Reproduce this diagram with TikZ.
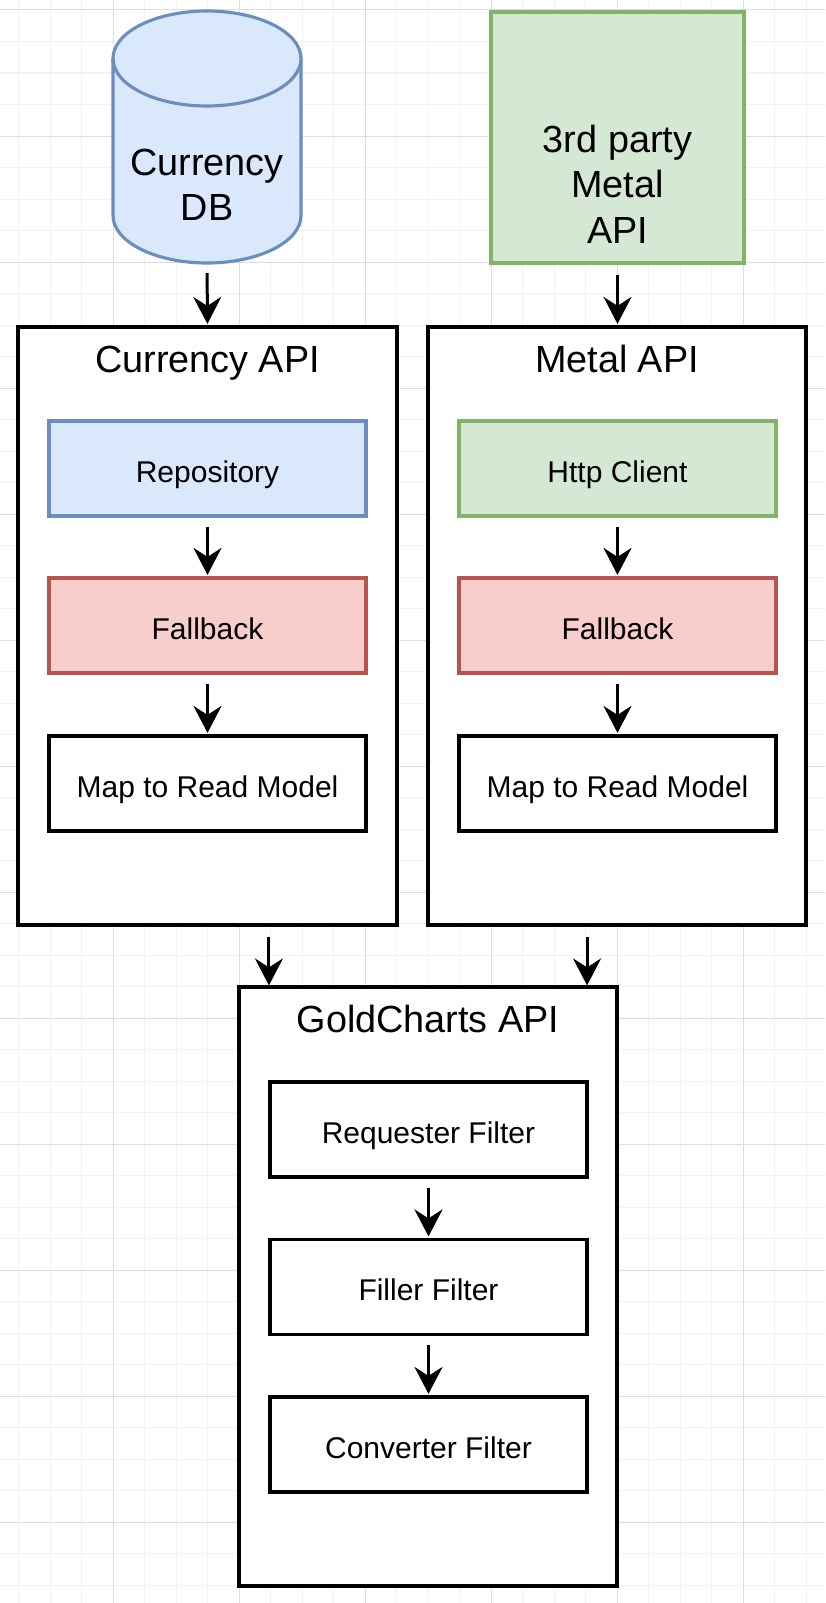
\documentclass[tikz,border=0pt]{standalone}
\usepackage{fontspec}
\setmainfont{Liberation Sans}
\usetikzlibrary{arrows.meta,calc}
\definecolor{bfill}{HTML}{DAE8FC}
\definecolor{bline}{HTML}{6C8EBF}
\definecolor{gfill}{HTML}{D5E8D4}
\definecolor{gline}{HTML}{82B366}
\definecolor{rfill}{HTML}{F8CECC}
\definecolor{rline}{HTML}{B85450}
\definecolor{gridmin}{HTML}{F2F2F2}
\definecolor{gridmaj}{HTML}{DDDDDD}
\begin{document}
\begin{tikzpicture}[x=1pt,y=-1pt,
  gridminor/.style={draw=gridmin,line width=1pt},
  gridmajor/.style={draw=gridmaj,line width=1pt},
  bigfont/.style={font=\fontsize{37.8pt}{45.4pt}\selectfont},
  container/.style={draw=black,fill=white,line width=3.15pt,minimum width=378pt,minimum height=598pt,inner sep=0pt},
  title/.style={bigfont,anchor=base,inner sep=0pt},
  stage/.style={draw=black,fill=white,line width=3.15pt,minimum width=317pt,minimum height=95pt,inner sep=0pt,
    text height=27pt,text depth=0pt,font=\fontsize{30pt}{36pt}\selectfont},
  bluebox/.style={fill=bfill,draw=bline},
  greenbox/.style={fill=gfill,draw=gline},
  redbox/.style={fill=rfill,draw=rline},
  arr/.style={draw=black,line width=3pt,-{Stealth[length=27pt,width=28pt,inset=9pt]}}
]
\useasboundingbox (0,0) rectangle (825,1603);
\fill[white] (0,0) rectangle (825,1603);
\begin{scope}
\clip (0,0) rectangle (825,1603);
\foreach \i in {0,...,26} \draw[gridminor] ({18.5+31.5*\i},0) -- ({18.5+31.5*\i},1603);
\foreach \j in {0,...,50} \draw[gridminor] (0,{10+31.5*\j}) -- (825,{10+31.5*\j});
\foreach \i in {-1,...,6} \draw[gridmajor] ({113+126*\i},0) -- ({113+126*\i},1603);
\foreach \j in {0,...,12} \draw[gridmajor] (0,{10+126*\j}) -- (825,{10+126*\j});
\end{scope}

% Currency DB cylinder
\fill[bfill] (113,58.5) -- (113,215.5) .. controls (113,241.7) and (155.1,263) .. (207,263)
  .. controls (258.9,263) and (301,241.7) .. (301,215.5) -- (301,58.5) -- cycle;
\draw[bline,line width=3.15pt] (113,58.5) -- (113,215.5) .. controls (113,241.7) and (155.1,263) .. (207,263)
  .. controls (258.9,263) and (301,241.7) .. (301,215.5) -- (301,58.5);
\filldraw[fill=bfill,draw=bline,line width=3.15pt] (207,58.5) ellipse [x radius=94, y radius=47.5];
\node[minimum width=188pt,minimum height=252pt,inner sep=0pt] (db) at (207,137) {};
\node[bigfont,align=center,inner sep=0pt] (dbT) at (207,185) {Currency\\DB};

% 3rd party Metal API
\node[greenbox,line width=3.15pt,minimum width=253pt,minimum height=251pt,inner sep=0pt] (ext) at (617.5,137.5) {};
\node[bigfont,align=center,inner sep=0pt] (extT) at (617.5,184) {3rd party\\Metal\\API};

% Containers
\node[container,minimum width=379pt] (cur) at (207.5,626) {};
\node[title] (curT) at (207.5,372) {Currency API};
\node[container] (met) at (617,626) {};
\node[title] (metT) at (617,372) {Metal API};
\node[container,minimum height=599pt] (gold) at (428,1286.5) {};
\node[title] (goldT) at (428,1032.5) {GoldCharts API};

% Currency API stages
\node[stage,bluebox] (repo) at (207.5,468.5) {Repository};
\node[stage,redbox] (fb1) at (207.5,625.5) {Fallback};
\node[stage] (map1) at (207.5,783.5) {Map to Read Model};

% Metal API stages
\node[stage,greenbox] (http) at (617.5,468.5) {Http Client};
\node[stage,redbox] (fb2) at (617.5,625.5) {Fallback};
\node[stage] (map2) at (617.5,783.5) {Map to Read Model};

% GoldCharts stages
\node[stage] (req) at (428.5,1129.5) {Requester Filter};
\node[stage] (fill) at (428.5,1287) {Filler Filter};
\node[stage] (conv) at (428.5,1444.5) {Converter Filter};

% connectors
\draw[arr,shorten <=10pt,shorten >=1.5pt] (db.south) -- (cur.north);
\draw[arr,shorten <=10pt,shorten >=1.5pt] (ext.south) -- (met.north -| ext.south);
\draw[arr,shorten <=9pt,shorten >=1.5pt] (repo) -- (fb1);
\draw[arr,shorten <=9pt,shorten >=1.5pt] (fb1) -- (map1);
\draw[arr,shorten <=9pt,shorten >=1.5pt] (http) -- (fb2);
\draw[arr,shorten <=9pt,shorten >=1.5pt] (fb2) -- (map2);
\draw[arr,shorten <=9pt,shorten >=1.5pt] (req) -- (fill);
\draw[arr,shorten <=9pt,shorten >=1.5pt] (fill) -- (conv);
\coordinate (gA) at ($(gold.north west)+(31.5,0)$);
\coordinate (gB) at ($(gold.north east)+(-31.5,0)$);
\draw[arr,shorten <=10pt] (cur.south -| gA) -- (gA);
\draw[arr,shorten <=10pt] (met.south -| gB) -- (gB);
\end{tikzpicture}
\end{document}
